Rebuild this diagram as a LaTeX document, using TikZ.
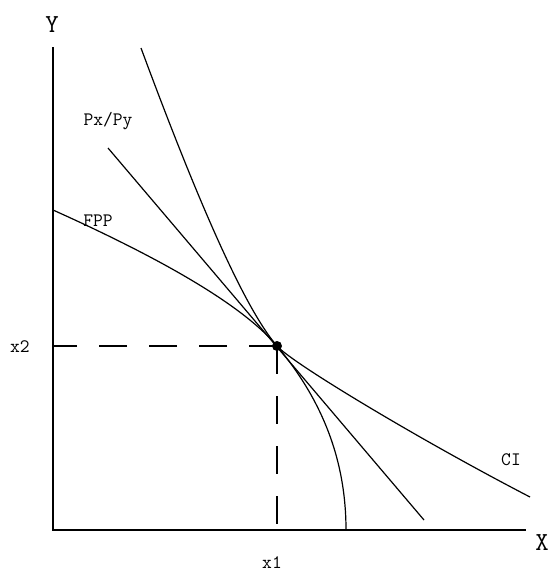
\documentclass[tikz,border=0pt]{standalone}
\usepackage{tikz}

\begin{document}
\begin{tikzpicture}[x=1pt, y=-1pt, every node/.style={font=\fontsize{19}{19}\ttfamily, inner sep=0pt}]
\tikzstyle{axis} = [line width=1.6pt, black]
\tikzstyle{curve} = [line width=1.2pt, black]
\tikzstyle{guide} = [line width=1.4pt, dash pattern=on 28pt off 22pt]
\tikzstyle{lbl} = [anchor=base]
\tikzstyle{biglbl} = [anchor=base, font=\fontsize{26}{26}\ttfamily]

\useasboundingbox (0,0) rectangle (550,574);

% axes
\coordinate (O) at (53,530);
\coordinate (ytop) at (53,47);
\coordinate (xend) at (526,530);
\draw [axis] (ytop) -- (O) -- (xend);
\node (ylab) [biglbl] at (52,32) {Y};
\node (xlab) [biglbl] at (542,550) {X};

% point of tangency
\coordinate (E) at (277,346);
\coordinate (Ey) at (53,346);
\coordinate (Ex) at (277,530);
\draw [guide] (E) -- (Ey);
\draw [guide] (E) -- (Ex);
\node (x2lab) [lbl] at (20,352) {x2};
\node (x1lab) [lbl] at (272,568) {x1};

% price line
\coordinate (pstart) at (108,148);
\coordinate (pend) at (424,520);
\draw [curve] (pstart) -- (pend);
\node (pxpy) [lbl] at (108,125) {Px/Py};

% steep curve
\coordinate (atop) at (141,48);
\coordinate (abot) at (346,530);
\draw [curve] (atop) .. controls (201,210) and (246,310) .. (E)
      .. controls (323,401) and (346,461) .. (abot);

% flat curve
\coordinate (bleft) at (53,210);
\coordinate (bright) at (530,497);
\draw [curve] (bleft) .. controls (171,263) and (245,308) .. (E)
      .. controls (292,363) and (420,440) .. (bright);
\node (fpp) [lbl] at (98,226) {FPP};
\node (ci) [lbl] at (511,465) {CI};

\fill (E) circle (5);
\end{tikzpicture}
\end{document}
